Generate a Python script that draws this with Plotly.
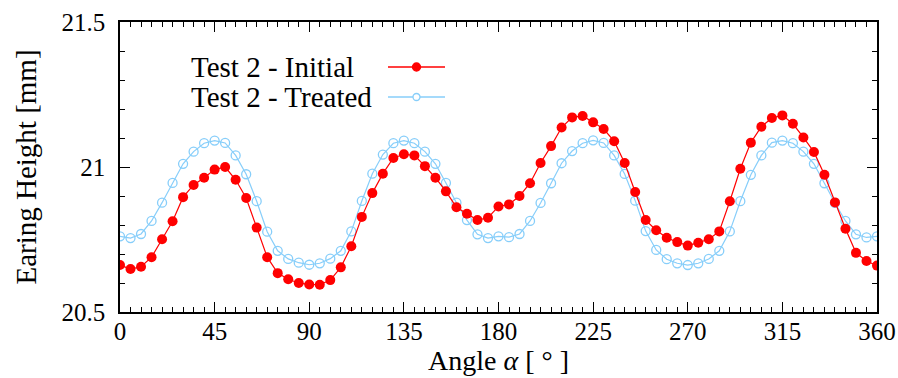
import plotly.graph_objects as go

angles = list(range(0, 365, 5))

initial = [
    20.662, 20.648, 20.656, 20.689, 20.751, 20.813, 20.896, 20.938, 20.963, 20.991,
    21.000, 20.956, 20.893, 20.791, 20.689, 20.634, 20.613, 20.600, 20.595,
    20.594, 20.610, 20.654, 20.727, 20.828, 20.910, 20.977, 21.031, 21.044, 21.040,
    21.003, 20.963, 20.916, 20.861, 20.839, 20.817, 20.825, 20.864,
    20.871, 20.900, 20.944, 21.014, 21.072, 21.136, 21.171, 21.176, 21.154, 21.131,
    21.089, 21.014, 20.914, 20.817, 20.782, 20.756, 20.741, 20.729,
    20.739, 20.751, 20.778, 20.882, 20.994, 21.084, 21.139, 21.169, 21.178, 21.149,
    21.102, 21.052, 20.973, 20.878, 20.787, 20.704, 20.676, 20.660,
]

treated = [
    20.761, 20.755, 20.769, 20.814, 20.877, 20.945, 21.011, 21.053, 21.082, 21.091,
    21.083, 21.040, 20.975, 20.882, 20.777, 20.711, 20.683, 20.670, 20.663,
    20.668, 20.684, 20.711, 20.778, 20.883, 20.977, 21.043, 21.082, 21.091, 21.082,
    21.053, 21.011, 20.945, 20.877, 20.817, 20.768, 20.755, 20.761,
    20.758, 20.769, 20.814, 20.876, 20.944, 21.013, 21.055, 21.082, 21.092, 21.083,
    21.040, 20.976, 20.884, 20.779, 20.714, 20.682, 20.668, 20.662,
    20.668, 20.683, 20.711, 20.778, 20.882, 20.973, 21.040, 21.084, 21.091, 21.082,
    21.053, 21.011, 20.944, 20.876, 20.814, 20.768, 20.757, 20.761,
]

x_ticks = [0, 45, 90, 135, 180, 225, 270, 315, 360]
y_ticks = [20.5, 21, 21.5]
y_tick_labels = ["20.5", "21", "21.5"]
series_names = ["Test 2 - Initial", "Test 2 - Treated"]

RED = "#ff0000"
BLUE = "#87cefa"
FONT = "Liberation Serif"

fig = go.Figure()
fig.add_trace(go.Scatter(
    x=angles, y=treated, mode="lines+markers", name=series_names[1],
    line=dict(color=BLUE, width=1.2),
    marker=dict(symbol="circle-open", size=9, color=BLUE, line=dict(width=1.3, color=BLUE)),
    showlegend=False,
))
fig.add_trace(go.Scatter(
    x=angles, y=initial, mode="lines+markers", name=series_names[0],
    line=dict(color=RED, width=1.2),
    marker=dict(symbol="circle", size=10, color=RED),
    showlegend=False,
))

L, R, T, B = 120, 21, 22, 66
W, H = 898, 378
pw, ph = W - L - R, H - T - B

def px(xp):
    return (xp - L) / pw

def py(yp):
    return (H - B - yp) / ph

shapes = []
annotations = []
legend_rows = [(series_names[0], 67, RED, True), (series_names[1], 97, BLUE, False)]
for name, yrow, col, filled in legend_rows:
    annotations.append(dict(
        x=px(189), y=py(yrow), xref="paper", yref="paper", text=name,
        showarrow=False, xanchor="left", yanchor="middle",
        font=dict(family=FONT, size=29, color="black"),
    ))
    shapes.append(dict(type="line", xref="paper", yref="paper",
                       x0=px(388), x1=px(445), y0=py(yrow), y1=py(yrow),
                       line=dict(color=col, width=1.3)))
    r = 4 if filled else 3.5
    shapes.append(dict(type="circle", xref="paper", yref="paper",
                       xsizemode="pixel", ysizemode="pixel",
                       xanchor=px(416.5), yanchor=py(yrow),
                       x0=-r, x1=r, y0=-r, y1=r,
                       fillcolor=col if filled else "white",
                       line=dict(color=col, width=1.3)))

axis_common = dict(
    showgrid=False, zeroline=False, showline=True, linecolor="black", linewidth=1.5,
    mirror="allticks", ticks="inside", ticklen=10, tickwidth=1.2, tickcolor="black",
    tickfont=dict(family=FONT, size=25, color="black"),
    automargin=False,
)

fig.update_layout(
    width=W, height=H,
    margin=dict(l=L, r=R, t=T, b=B),
    plot_bgcolor="white", paper_bgcolor="white",
    shapes=shapes, annotations=annotations,
    xaxis=dict(
        range=[0, 360], tickvals=x_ticks,
        minor=dict(dtick=5, ticks="inside", ticklen=5, tickwidth=1, tickcolor="black"),
        title=dict(text="Angle <i>α</i> [ ° ]", font=dict(family=FONT, size=28, color="black"), standoff=6),
        ticklabelstandoff=-4,
        **axis_common,
    ),
    yaxis=dict(
        range=[20.5, 21.5], tickvals=y_ticks, ticktext=y_tick_labels,
        minor=dict(dtick=0.1, ticks="inside", ticklen=5, tickwidth=1, tickcolor="black"),
        title=dict(text="Earing Height [mm]", font=dict(family=FONT, size=29, color="black"), standoff=16),
        ticklabelstandoff=8,
        **axis_common,
    ),
)

fig.write_html(
    "out.html",
    config={"displayModeBar": False},
    post_script="document.body.style.margin='0';document.body.style.overflow='hidden';",
)
